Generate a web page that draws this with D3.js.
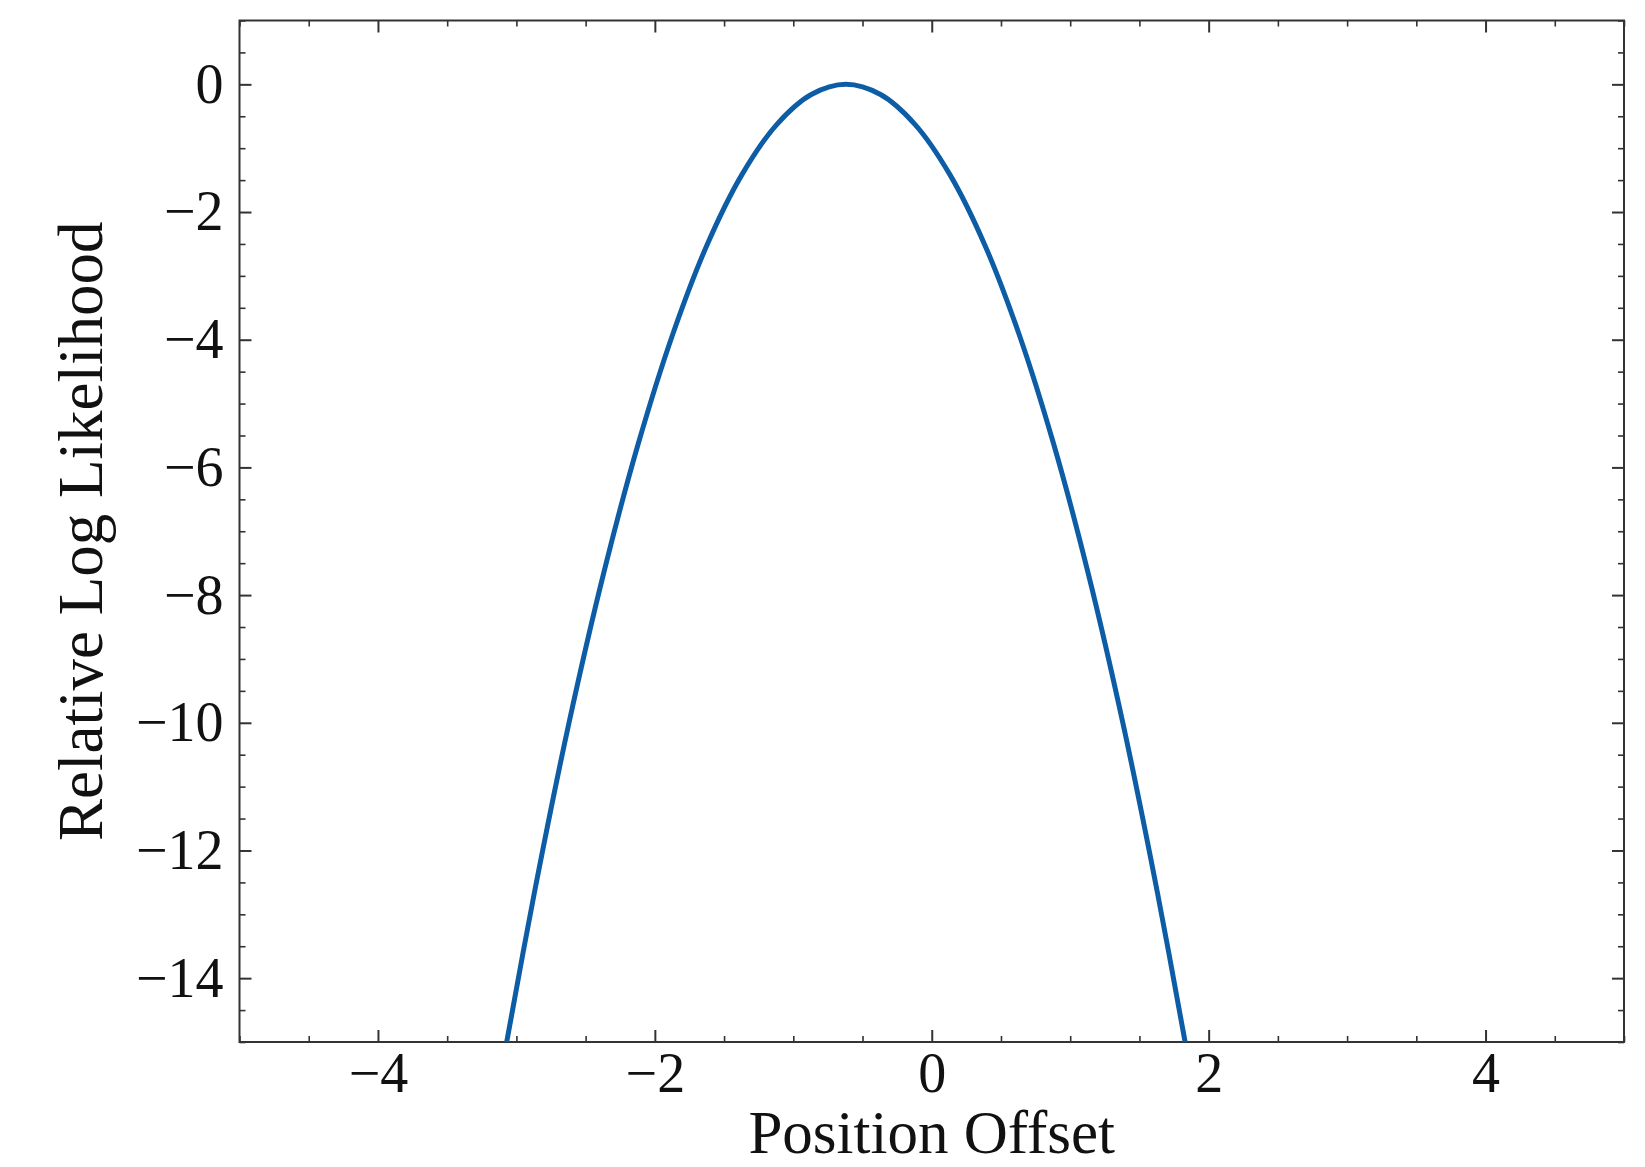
<!DOCTYPE html>
<html>
<head>
<meta charset="utf-8">
<script src="https://cdn.jsdelivr.net/npm/d3@7"></script>
<style>
  body { margin: 0; background: #fff; }
  text { font-family: "Liberation Serif", "DejaVu Serif", serif; fill: #111; }
</style>
</head>
<body>
<div id="chart"></div>
<script>

// curve (offset vs relative log likelihood)
const offsets = [-3.07, -2.87, -2.62, -2.37, -2.12, -1.87, -1.62, -1.37, -1.12, -0.87, -0.62,
                 -0.37, -0.12, 0.13, 0.38, 0.63, 0.88, 1.13, 1.38, 1.63, 1.83];
const logLik = [-15.0, -12.66, -10.0, -7.66, -5.63, -3.91, -2.5, -1.41, -0.63, -0.16, 0.0,
                -0.16, -0.63, -1.41, -2.5, -3.91, -5.63, -7.66, -10.0, -12.66, -15.0];

const xDomain = [-5, 5];
const yDomain = [-15, 1];
const xTicks = [-4, -2, 0, 2, 4];
const yTicks = [0, -2, -4, -6, -8, -10, -12, -14];
const xLabel = "Position Offset";
const yLabel = "Relative Log Likelihood";

const W = 1645, H = 1167;
const margin = {left: 239.5, right: 21, top: 20.5, bottom: 125};
const width = W - margin.left - margin.right;
const height = H - margin.top - margin.bottom;

const x = d3.scaleLinear().domain(xDomain).range([0, width]);
const y = d3.scaleLinear().domain(yDomain).range([height, 0]);

const svg = d3.select("#chart").append("svg")
	.attr("width", W)
	.attr("height", H);

const g = svg.append("g")
	.attr("transform", `translate(${margin.left},${margin.top})`);

g.append("clipPath").attr("id", "clip")
	.append("rect").attr("width", width).attr("height", height);

// minor ticks every 0.5
const xMinor = d3.range(-5, 5.001, 0.5).filter(v => !xTicks.includes(v));
const yMinor = d3.range(-15, 1.001, 0.5).filter(v => !yTicks.includes(v));

const fmt = d3.format("d");
const major = 12, minor = 6;

function styleAxis(sel, w) {
	sel.select(".domain").remove();
	sel.selectAll(".tick line").attr("stroke", "#333").attr("stroke-width", w);
	sel.selectAll(".tick text").attr("font-size", 56).attr("fill", "#111")
		.style("font-family", "'Liberation Serif', serif");
}

// bottom
g.append("g").attr("transform", `translate(0,${height})`)
	.call(d3.axisBottom(x).tickValues(xTicks).tickFormat(fmt).tickSize(-major).tickPadding(10))
	.call(s => styleAxis(s, 2));
g.append("g").attr("transform", `translate(0,${height})`)
	.call(d3.axisBottom(x).tickValues(xMinor).tickFormat("").tickSize(-minor))
	.call(s => styleAxis(s, 1.6));
// top
g.append("g")
	.call(d3.axisTop(x).tickValues(xTicks).tickFormat("").tickSize(-major))
	.call(s => styleAxis(s, 2));
g.append("g")
	.call(d3.axisTop(x).tickValues(xMinor).tickFormat("").tickSize(-minor))
	.call(s => styleAxis(s, 1.6));
// left
g.append("g")
	.call(d3.axisLeft(y).tickValues(yTicks).tickFormat(fmt).tickSize(-major).tickPadding(16))
	.call(s => styleAxis(s, 2));
g.append("g")
	.call(d3.axisLeft(y).tickValues(yMinor).tickFormat("").tickSize(-minor))
	.call(s => styleAxis(s, 1.6));
// right
g.append("g").attr("transform", `translate(${width},0)`)
	.call(d3.axisRight(y).tickValues(yTicks).tickFormat("").tickSize(-major))
	.call(s => styleAxis(s, 2));
g.append("g").attr("transform", `translate(${width},0)`)
	.call(d3.axisRight(y).tickValues(yMinor).tickFormat("").tickSize(-minor))
	.call(s => styleAxis(s, 1.6));

// frame
g.append("rect")
	.attr("width", width).attr("height", height)
	.attr("fill", "none").attr("stroke", "#333").attr("stroke-width", 2);

// the curve
const makeLine = d3.line()
	.x((d, i) => x(offsets[i]))
	.y((d, i) => y(logLik[i]))
	.curve(d3.curveCatmullRom);

g.append("path")
	.attr("clip-path", "url(#clip)")
	.attr("d", makeLine(offsets))
	.attr("fill", "none")
	.attr("stroke", "#0C5DA5")
	.attr("stroke-width", 5);

// axis labels
g.append("text")
	.attr("x", width / 2)
	.attr("y", height + 111)
	.attr("text-anchor", "middle")
	.attr("font-size", 61)
	.text(xLabel);

g.append("text")
	.attr("transform", `translate(${102 - margin.left},${height / 2}) rotate(-90)`)
	.attr("text-anchor", "middle")
	.attr("font-size", 63)
	.text(yLabel);

</script>
</body>
</html>
